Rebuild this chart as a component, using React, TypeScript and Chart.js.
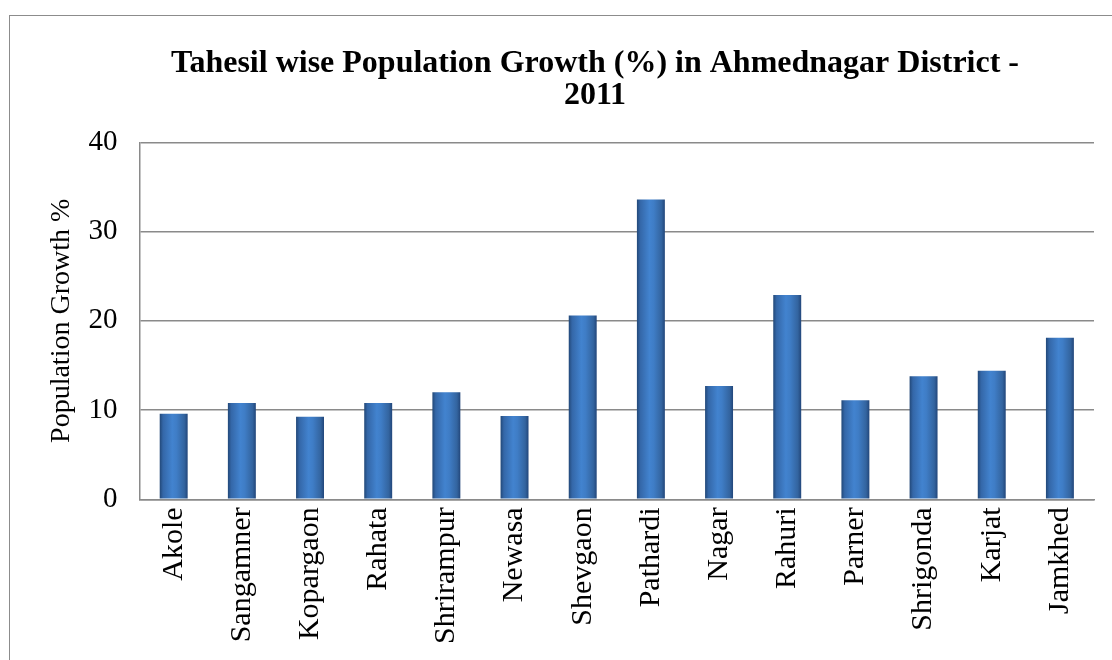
import React, { useEffect, useRef } from "react";
import { Chart, registerables } from "chart.js";

Chart.register(...registerables);

const categories: string[] = [
  "Akole", "Sangamner", "Kopargaon", "Rahata", "Shrirampur", "Newasa", "Shevgaon",
  "Pathardi", "Nagar", "Rahuri", "Parner", "Shrigonda", "Karjat", "Jamkhed",
];
const growthValues: number[] = [9.6, 10.8, 9.25, 10.8, 12.0, 9.35, 20.6, 33.6, 12.7, 22.9, 11.1, 13.8, 14.4, 18.1];
const yTicks: number[] = [0, 10, 20, 30, 40];
const titleLines: string[] = ["Tahesil wise Population Growth (%) in Ahmednagar District -", "2011"];
const yAxisTitle = "Population Growth %";

const SERIF = "'Liberation Serif', 'Times New Roman', serif";
const BAR_PCT = 0.41;
const CANVAS_W = 1145;
const CANVAS_H = 660;

export default function App() {
  const ref = useRef<HTMLCanvasElement | null>(null);
  useEffect(() => {
    if (!ref.current) return;
    const chart = new Chart(ref.current, {
      type: "bar",
      data: {
        labels: categories,
        datasets: [
          {
            label: "Population Growth %",
            data: growthValues,
            barPercentage: BAR_PCT,
            categoryPercentage: 1,
            borderWidth: 0,
            backgroundColor: (ctx: any) => {
              const c = ctx.chart;
              const xs = c.scales && c.scales.x;
              if (!xs || !c.chartArea || ctx.dataIndex === undefined) return "#3a72bb";
              const cx = xs.getPixelForValue(ctx.dataIndex);
              const w = (xs.width / categories.length) * BAR_PCT;
              const g = c.ctx.createLinearGradient(cx - w / 2, 0, cx + w / 2, 0);
              g.addColorStop(0, "#224878");
              g.addColorStop(0.12, "#3467a8");
              g.addColorStop(0.45, "#4283cf");
              g.addColorStop(0.6, "#3f7dc6");
              g.addColorStop(0.88, "#33649f");
              g.addColorStop(1, "#22467a");
              return g;
            },
          },
        ],
      },
      options: {
        animation: false,
        responsive: false,
        maintainAspectRatio: false,
        layout: { padding: { left: 45, right: 0, top: 47, bottom: 8 } },
        plugins: {
          legend: { display: false },
          tooltip: { enabled: false },
          title: {
            display: true,
            text: titleLines,
            color: "#000",
            font: { family: SERIF, size: 32, weight: "bold", lineHeight: 1.02 },
            padding: { top: 0, bottom: 30 },
          },
        },
        scales: {
          x: {
            grid: { display: false, drawTicks: false },
            border: { display: true, color: "#8a8a8a", width: 1.5 },
            ticks: {
              color: "#000",
              font: { family: SERIF, size: 30 },
              minRotation: 90,
              maxRotation: 90,
              autoSkip: false,
              padding: 8,
            },
          },
          y: {
            min: 0,
            max: 40,
            afterBuildTicks: (axis: any) => {
              axis.ticks = yTicks.map((v) => ({ value: v }));
            },
            grid: { color: "#8a8a8a", lineWidth: 1.5, drawTicks: false },
            border: { display: true, color: "#8a8a8a", width: 1.5 },
            ticks: {
              color: "#000",
              font: { family: SERIF, size: 29 },
              padding: 22,
            },
            title: {
              display: true,
              text: yAxisTitle,
              color: "#000",
              font: { family: SERIF, size: 28 },
              padding: { top: 0, bottom: -12 },
            },
          },
          yRight: {
            position: "right",
            display: true,
            grid: { display: false, drawTicks: false },
            border: { display: false },
            ticks: { display: false },
            afterFit: (axis: any) => {
              axis.width = CANVAS_W - 1094;
            },
          },
        },
      },
    });
    return () => chart.destroy();
  }, []);
  return (
    <div style={{ position: "absolute", left: 0, top: 0, width: 1112, height: 660, overflow: "hidden", background: "#fff" }}>
      <div
        style={{
          position: "absolute",
          left: 9,
          top: 15,
          width: 1180,
          height: 700,
          border: "1.5px solid #8c8c8c",
        }}
      />
      <canvas
        ref={ref}
        width={CANVAS_W}
        height={CANVAS_H}
        style={{ position: "absolute", left: 0, top: 0, display: "block" }}
      />
    </div>
  );
}
